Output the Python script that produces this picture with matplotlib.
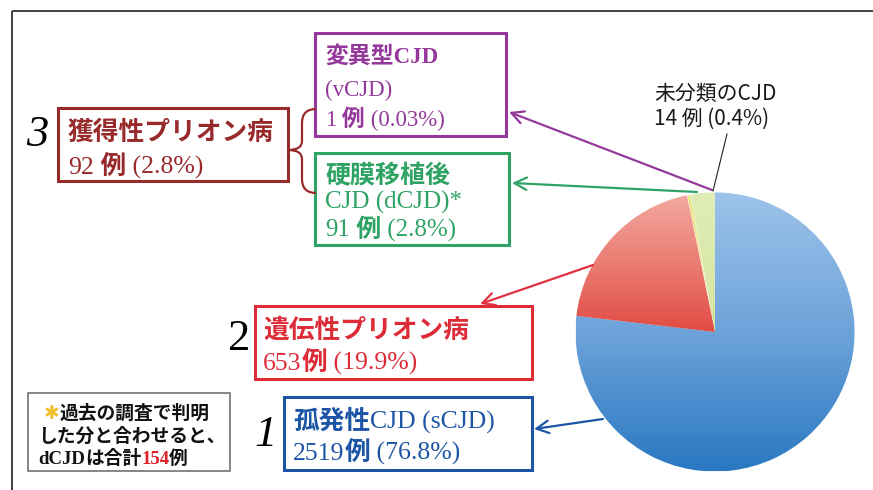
import numpy as np
import matplotlib
matplotlib.use("Agg")
import matplotlib.pyplot as plt
from matplotlib.patches import Rectangle, PathPatch
from matplotlib.path import Path
from matplotlib.colors import LinearSegmentedColormap

# ---------------- data ----------------
categories = ["変異型CJD (vCJD)", "硬膜移植後CJD (dCJD)", "未分類のCJD",
              "遺伝性プリオン病", "孤発性CJD (sCJD)"]
counts = [1, 91, 14, 653, 2519]
percents = ["0.03%", "2.8%", "0.4%", "19.9%", "76.8%"]
acquired_total = 92
acquired_pct = "2.8%"
dcjd_total_past = 154

W, H = 873, 490
fig = plt.figure(figsize=(W / 100, H / 100), dpi=100)
ax = fig.add_axes([0, 0, 1, 1])
ax.set_axis_off()

def Y(y):
    return H - y

SERIF_CJK = ["Liberation Serif", "Noto Sans CJK JP"]
PURP = "#94399b"
GREEN = "#2ea363"
DRED = "#992a2c"
RED = "#dd2c38"
BLUE = "#1d55a6"

# ---------------- pie ----------------
cx, cy, r = 715, Y(332), 139.5
pie_colors = ["#a070b0", "#d9e8a8", "#ece47e", "#e8625a", "#5d9bd8"]
wedges, _ = ax.pie(counts, colors=pie_colors, startangle=90, counterclock=True,
                   center=(cx, cy), radius=r,
                   wedgeprops=dict(linewidth=0.6, edgecolor="white"))
# gradients
grad = np.linspace(0, 1, 256).reshape(-1, 1)
grads = {
    4: (["#9dc3ea", "#6ea3da", "#2a78c2"], (cx - r, cx + r, cy - r, cy + r)),
    3: (["#f3aaa2", "#ea7a70", "#e0443c"], (cx - r, cx + 5, cy - 10, cy + r)),
    1: (["#e0edb8", "#d3e49c"], (cx - 40, cx + 5, cy - 10, cy + r)),
}
for idx, (cols, ext) in grads.items():
    cmap = LinearSegmentedColormap.from_list(f"g{idx}", cols)
    im = ax.imshow(grad, extent=ext, origin="upper", cmap=cmap, aspect="auto",
                   interpolation="bilinear", zorder=wedges[idx].get_zorder() + 0.05)
    im.set_clip_path(wedges[idx])

ax.set_xlim(0, W)
ax.set_ylim(0, H)
ax.set_aspect("auto")

# ---------------- frame ----------------
ax.plot([12, W], [Y(11), Y(11)], color="#333333", lw=1.3, solid_capstyle="butt")
ax.plot([12, 12], [Y(11), 0], color="#333333", lw=1.3, solid_capstyle="butt")

# ---------------- boxes ----------------
def box(x0, y0, x1, y1, color, lw=2.2):
    ax.add_patch(Rectangle((x0, Y(y1)), x1 - x0, y1 - y0, fill=True,
                           facecolor="white", edgecolor=color, lw=lw, zorder=3))

box(315, 33, 506, 136, PURP)
box(315, 153, 509, 245, GREEN)
box(58, 108, 288, 181, DRED)
box(255, 306, 532, 379, RED)
box(284, 397, 532, 470, BLUE)
box(28, 393, 230, 471, "#666666", lw=1.1)

# ---------------- text helper ----------------
def line(x, yc, parts, size, color, family=SERIF_CJK):
    px = size * 100 / 72
    yb = Y(yc) - 0.62 * px
    t = None
    for p in parts:
        txt = p[0]
        weight = p[1] if len(p) > 1 else "normal"
        col = p[2] if len(p) > 2 and p[2] else color
        fam = p[3] if len(p) > 3 else family
        kw = dict(fontsize=size, color=col, fontweight=weight, family=fam,
                  va="bottom", ha="left", zorder=5)
        if t is None:
            t = ax.text(x, yb, txt, **kw)
        else:
            t = ax.annotate(txt, xy=(1, 0), xycoords=t, **kw)
    return t

# purple box (vCJD)
line(325, 54, [("変異型CJD", "bold")], 16.5, PURP)
line(325, 87, [("(vCJD)",)], 16.5, PURP)
line(325, 117, [(f"{counts[0]}",), (" 例", "bold"), (f" ({percents[0]})",)], 16.5, PURP)

# green box (dCJD)
line(325, 173, [("硬膜移植後", "bold")], 18, GREEN)
line(325, 198, [("CJD (dCJD)*",)], 18, GREEN)
line(325, 226, [(f"{counts[1]}",), (" 例", "bold"), (f" ({percents[1]})",)], 18, GREEN)

# acquired
line(68, 129, [("獲得性プリオン病", "bold")], 18.5, DRED)
line(68, 163, [(f"{acquired_total}",), (" 例", "bold"), (f" ({acquired_pct})",)], 18.5, DRED)

# genetic
line(263, 327, [("遺伝性プリオン病", "bold")], 18.5, RED)
line(263, 359, [(f"{counts[3]}",), ("例", "bold"), (f" ({percents[3]})",)], 18.5, RED)

# sporadic
line(293, 418, [("孤発性", "bold"), ("CJD (sCJD)",)], 18.5, BLUE)
line(293, 449, [(f"{counts[4]}",), ("例", "bold"), (f" ({percents[4]})",)], 18.5, BLUE)

# big numerals
ax.text(37, Y(135), "3", fontsize=32, family="Liberation Serif", style="italic",
        ha="center", va="center", color="black", zorder=5)
ax.text(239, Y(339), "2", fontsize=32, family="Liberation Serif",
        ha="center", va="center", color="black", zorder=5)
ax.text(266, Y(435), "1", fontsize=32, family="Liberation Serif", style="italic",
        ha="center", va="center", color="black", zorder=5)

# note box
line(44, 411, [("✱", "bold", "#f2c12e", ["DejaVu Sans"]), ("過去の調査で判明", "bold")], 13.5, "#111111")
line(38, 434, [("した分と合わせると、", "bold")], 13.5, "#111111")
line(38, 456, [("dCJD", "bold"), ("は合計", "bold"), (f"{dcjd_total_past}", "bold", "#e0202a"),
               ("例", "bold")], 13.5, "#111111")

# unclassified label
line(654, 92, [("未分類のCJD",)], 15, "#1a1a1a", family=["Noto Sans CJK JP"])
line(654, 117, [(f"{counts[2]} 例 ({percents[2]})",)], 15, "#1a1a1a", family=["Noto Sans CJK JP"])

# ---------------- arrows ----------------
def arrow(tail, head, color, lw=1.6):
    ax.annotate("", xy=(head[0], Y(head[1])), xytext=(tail[0], Y(tail[1])),
                arrowprops=dict(arrowstyle="->,head_length=0.55,head_width=0.28",
                                color=color, lw=lw, shrinkA=0, shrinkB=0,
                                mutation_scale=16), zorder=4)

arrow((712, 190), (509, 112), PURP)
arrow((697, 192), (512, 183), GREEN)
arrow((593, 265), (480, 304), "#e03040")
arrow((603, 419), (534, 429), BLUE)
ax.plot([727, 713], [Y(134), Y(191)], color="#222222", lw=0.8, zorder=4)

# ---------------- brace ----------------
bx = 302
verts = [(316, 109), (bx, 109), (bx, 123), (bx, 141), (bx, 150), (288, 150),
         (bx, 150), (bx, 159), (bx, 179), (bx, 193), (316, 193)]
codes = [Path.MOVETO, Path.CURVE3, Path.CURVE3, Path.LINETO, Path.CURVE3, Path.CURVE3,
         Path.CURVE3, Path.CURVE3, Path.LINETO, Path.CURVE3, Path.CURVE3]
path = Path([(x, Y(y)) for x, y in verts], codes)
ax.add_patch(PathPatch(path, fill=False, edgecolor=DRED, lw=1.6, zorder=4))

fig.savefig("out.png", dpi=100)
